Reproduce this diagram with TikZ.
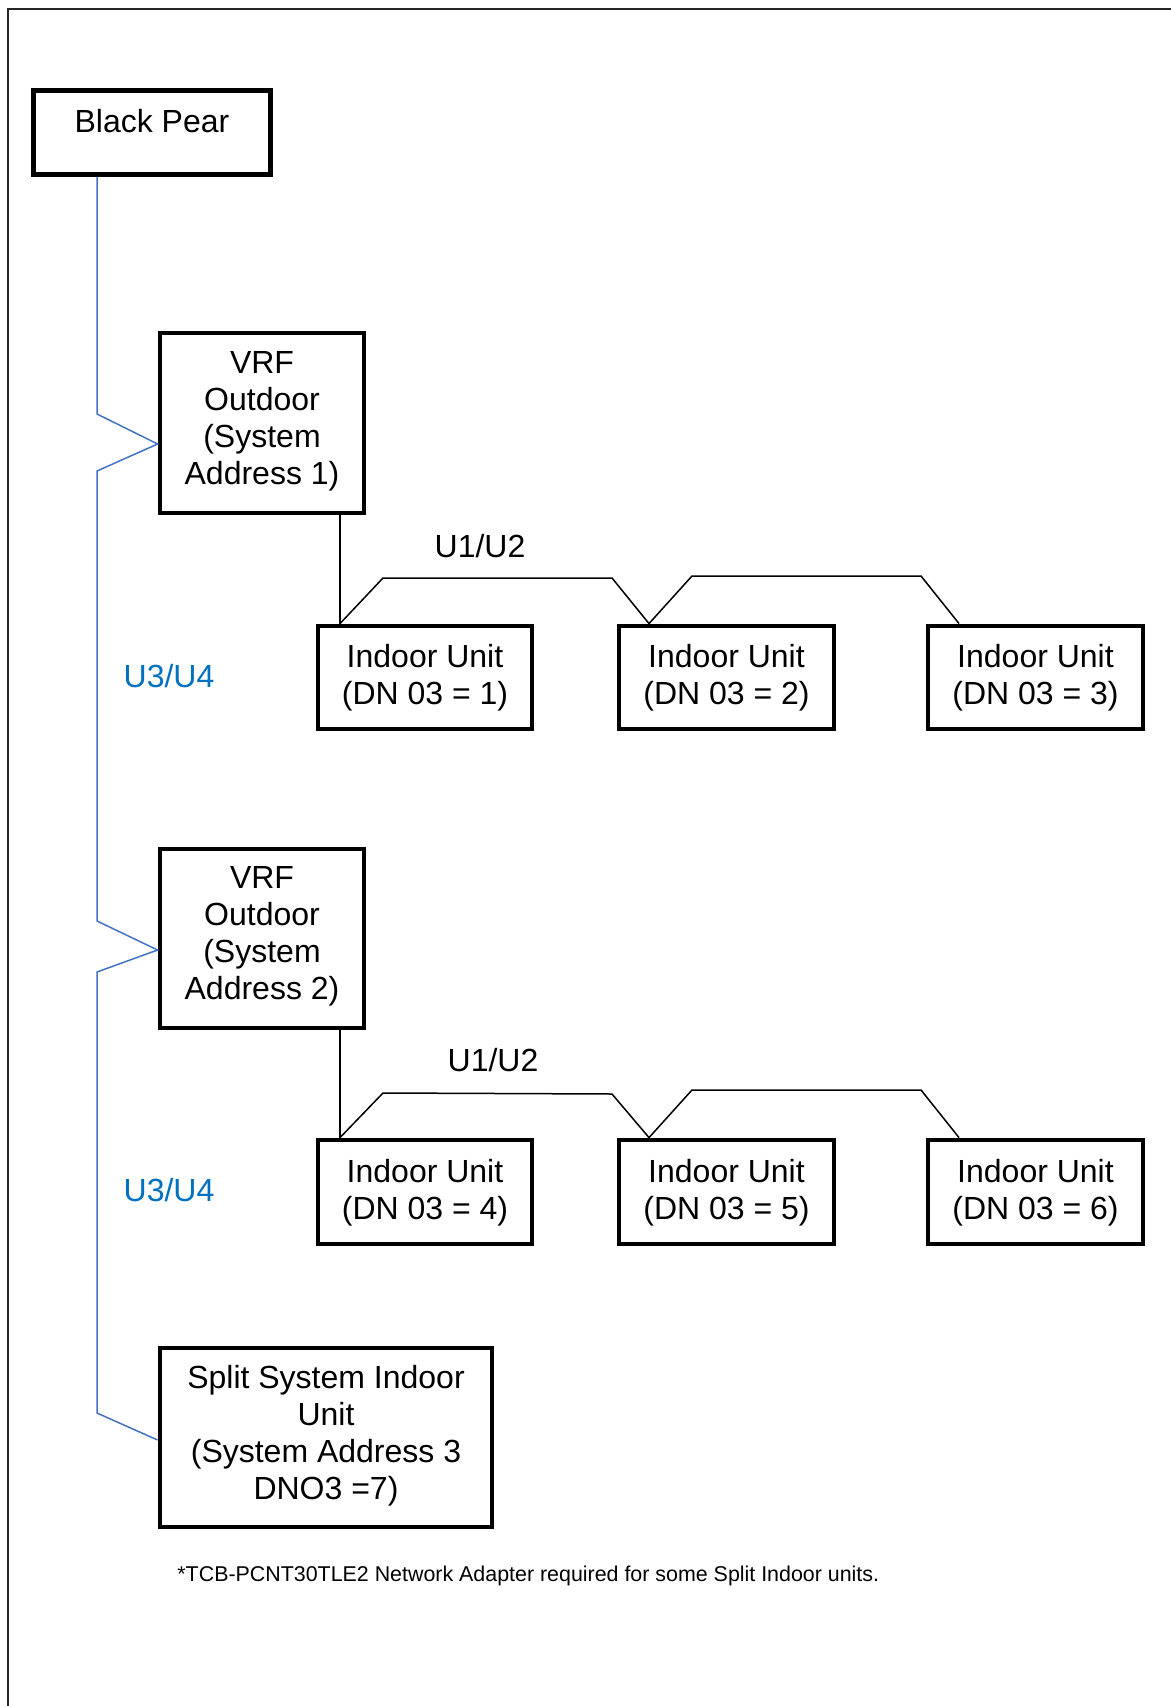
\documentclass[tikz,border=0pt]{standalone}
\usepackage{fontspec}
\setmainfont{Liberation Sans}
\definecolor{wireblue}{HTML}{4472C4}
\definecolor{textblue}{HTML}{0070C0}
\begin{document}
\begin{tikzpicture}[x=0.5pt,y=-0.5pt,
  box/.style={draw=black,line width=2.4pt,rectangle,inner sep=0pt},
  txt/.style={font=\fontsize{16}{18.5}\selectfont,align=center,inner sep=0pt},
  bluewire/.style={draw=wireblue,line width=0.75pt},
  blackwire/.style={draw=black,line width=0.75pt},
  frameline/.style={draw=black!85,line width=1pt}]
\useasboundingbox (0,0) rectangle (1171,1706);
% frame
\coordinate (ftr) at (1171,9);
\coordinate (ftl) at (8,9);
\coordinate (fbl) at (8,1706);
\draw[frameline] (ftr) -- (ftl) -- (fbl);
% boxes
\node[box,minimum width=118.5pt,minimum height=42pt] (bp) at (152,132.5) {};
\node[txt] (bpt) at (152,121) {Black Pear};
\node[box,minimum width=102pt,minimum height=90pt] (vrf1) at (262,423) {};
\node[txt] (vrf1t) at (262,421.5) {VRF\\Outdoor\\(System\\Address 1)};
\node[box,minimum width=102pt,minimum height=89.5pt] (vrf2) at (262,938.5) {};
\node[txt] (vrf2t) at (262,936.5) {VRF\\Outdoor\\(System\\Address 2)};
\node[box,minimum width=107pt,minimum height=51.5pt] (iu1) at (425,677.5) {};
\node[txt] (iu1t) at (425,677.5) {Indoor Unit\\(DN 03 = 1)};
\node[box,minimum width=107.5pt,minimum height=51.5pt] (iu2) at (726.5,677.5) {};
\node[txt] (iu2t) at (726.5,677.5) {Indoor Unit\\(DN 03 = 2)};
\node[box,minimum width=107.5pt,minimum height=51.5pt] (iu3) at (1035.5,677.5) {};
\node[txt] (iu3t) at (1035.5,677.5) {Indoor Unit\\(DN 03 = 3)};
\node[box,minimum width=107pt,minimum height=52pt] (iu4) at (425,1192) {};
\node[txt] (iu4t) at (425,1192.5) {Indoor Unit\\(DN 03 = 4)};
\node[box,minimum width=107.5pt,minimum height=52pt] (iu5) at (726.5,1192) {};
\node[txt] (iu5t) at (726.5,1192.5) {Indoor Unit\\(DN 03 = 5)};
\node[box,minimum width=107.5pt,minimum height=52pt] (iu6) at (1035.5,1192) {};
\node[txt] (iu6t) at (1035.5,1192.5) {Indoor Unit\\(DN 03 = 6)};
\node[box,minimum width=166pt,minimum height=89.5pt] (split) at (326,1437.5) {};
\node[txt] (splitt) at (326,1436) {Split System Indoor\\Unit\\(System Address 3\\DNO3 =7)};
% labels
\node[txt] (u12a) at (480,546) {U1/U2};
\node[txt] (u12b) at (493,1060) {U1/U2};
\node[txt,text=textblue] (u34a) at (169,676) {U3/U4};
\node[txt,text=textblue] (u34b) at (169,1190) {U3/U4};
\node[font=\fontsize{10.7}{13}\selectfont,anchor=west,inner sep=0pt] (note) at (177,1576) {*TCB-PCNT30TLE2 Network Adapter required for some Split Indoor units.};
% blue bus
\draw[bluewire] (bp.south -| 97,0) -- (97,414) -- (vrf1.west |- 0,444) -- (97,471)
  -- (97,921) -- (vrf2.west |- 0,950) -- (97,972) -- (97,1413) -- (split.west |- 0,1440);
% U1/U2 row 1
\draw[blackwire] (vrf1.south -| 340,0) -- (iu1.north -| 340,0);
\draw[blackwire] (iu1.north -| 340,0) -- (383,578) -- (612,578) -- (iu2.north -| 649,0);
\draw[blackwire] (iu2.north -| 649,0) -- (692,576) -- (921,576) -- (iu3.north -| 959,0);
% U1/U2 row 2
\draw[blackwire] (vrf2.south -| 340,0) -- (iu4.north -| 340,0);
\draw[blackwire] (iu4.north -| 340,0) -- (383,1093) -- (612,1094) -- (iu5.north -| 649,0);
\draw[blackwire] (iu5.north -| 649,0) -- (692,1090) -- (921,1090) -- (iu6.north -| 959,0);
\end{tikzpicture}
\end{document}
